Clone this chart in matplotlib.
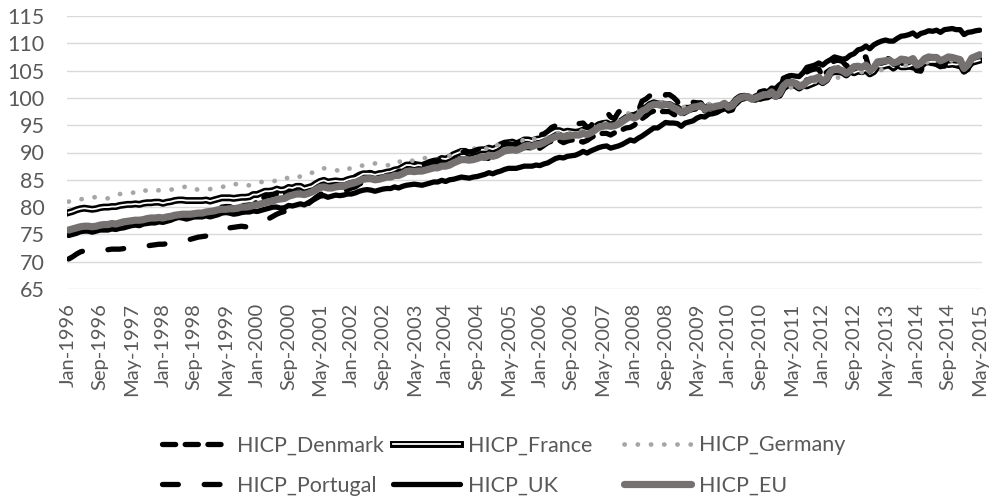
import numpy as np
import pandas as pd
import matplotlib
matplotlib.use("Agg")
import matplotlib.pyplot as plt
import matplotlib.patheffects as pe

months = pd.date_range("1996-01-01", "2015-05-01", freq="MS").strftime("%b-%Y").tolist()

hicp_denmark = [
    75.4, 75.6, 75.8, 76.0, 76.1, 76.1, 75.9, 76.1, 76.3, 76.3, 76.3, 76.3,
    76.6, 76.9, 77.2, 77.4, 77.5, 77.6, 77.3, 77.6, 77.7, 77.7, 77.7, 77.7,
    77.8, 78.1, 78.3, 78.5, 78.6, 78.6, 78.3, 78.5, 78.6, 78.6, 78.6, 78.6,
    79.0, 79.4, 79.8, 80.0, 80.1, 80.1, 79.8, 80.1, 80.3, 80.3, 80.4, 80.4,
    81.0, 81.4, 81.9, 82.1, 82.3, 82.4, 82.2, 82.4, 82.7, 82.6, 82.7, 82.7,
    82.9, 83.4, 83.9, 84.2, 84.5, 84.4, 84.1, 84.3, 84.5, 84.4, 84.5, 84.4,
    85.1, 85.6, 86.0, 86.3, 86.4, 86.3, 85.9, 86.2, 86.4, 86.4, 86.5, 86.4,
    86.8, 87.4, 87.8, 88.0, 88.0, 87.8, 87.5, 87.9, 88.0, 88.0, 87.9, 87.8,
    87.8, 88.2, 88.5, 88.7, 88.9, 88.7, 88.3, 88.7, 88.9, 89.1, 89.0, 88.9,
    89.1, 89.6, 90.1, 90.3, 90.6, 90.6, 90.3, 90.6, 90.9, 90.9, 90.8, 90.6,
    90.8, 91.3, 91.8, 92.1, 92.3, 92.2, 91.8, 92.1, 92.3, 92.2, 92.1, 91.9,
    92.2, 92.7, 93.1, 93.4, 93.5, 93.5, 93.2, 93.6, 93.9, 94.2, 94.5, 94.6,
    95.0, 95.6, 96.2, 96.7, 97.3, 97.6, 97.3, 97.5, 97.5, 97.5, 97.0, 96.7,
    96.9, 97.3, 97.7, 97.9, 98.0, 98.0, 97.6, 98.0, 98.2, 98.2, 98.2, 98.0,
    98.4, 99.1, 99.6, 100.1, 100.3, 100.2, 99.9, 100.2, 100.4, 100.6, 100.6, 100.6,
    101.1, 101.8, 102.5, 102.7, 103.0, 102.8, 102.5, 102.9, 103.3, 103.4, 103.4, 103.4,
    103.9, 104.7, 105.2, 105.3, 105.5, 105.2, 104.9, 105.4, 105.8, 105.7, 105.6, 105.3,
    105.1, 105.6, 105.9, 105.9, 106.0, 105.8, 105.3, 105.8, 106.1, 105.9, 105.7, 105.5,
    105.6, 105.9, 106.3, 106.3, 106.3, 106.1, 105.7, 106.0, 106.3, 106.2, 105.9, 105.7,
    105.8, 106.3, 106.6, 106.8, 106.9,
]

hicp_france = [
    79.0, 79.2, 79.5, 79.7, 79.8, 79.7, 79.6, 79.7, 79.9, 80.0, 80.0, 80.1,
    80.1, 80.3, 80.4, 80.5, 80.5, 80.6, 80.5, 80.7, 80.8, 80.8, 80.9, 80.9,
    80.7, 80.9, 81.0, 81.2, 81.3, 81.3, 81.2, 81.2, 81.2, 81.2, 81.2, 81.3,
    81.1, 81.3, 81.5, 81.7, 81.7, 81.7, 81.6, 81.7, 81.8, 81.8, 81.9, 82.3,
    82.3, 82.6, 82.9, 82.9, 83.0, 83.3, 83.1, 83.2, 83.6, 83.5, 83.8, 83.8,
    83.4, 83.6, 83.8, 84.3, 84.7, 84.9, 84.6, 84.7, 84.8, 84.7, 84.7, 85.0,
    85.2, 85.3, 85.7, 86.1, 86.1, 86.1, 85.9, 86.1, 86.2, 86.4, 86.5, 86.8,
    86.9, 87.3, 87.7, 87.7, 87.5, 87.7, 87.6, 87.9, 88.2, 88.4, 88.5, 88.9,
    88.8, 89.1, 89.6, 89.9, 90.2, 90.2, 89.8, 90.0, 90.2, 90.5, 90.5, 90.8,
    90.6, 90.9, 91.4, 91.7, 91.8, 91.9, 91.6, 91.9, 92.3, 92.3, 92.1, 92.4,
    92.5, 92.8, 93.2, 93.6, 94.0, 94.0, 93.7, 93.9, 93.8, 93.7, 93.8, 94.1,
    93.9, 94.1, 94.6, 95.1, 95.3, 95.4, 95.0, 95.3, 95.4, 95.9, 96.4, 96.7,
    96.8, 97.1, 97.8, 98.2, 98.8, 99.1, 98.9, 98.9, 98.8, 98.8, 98.4, 98.2,
    97.6, 98.1, 98.1, 98.3, 98.4, 98.7, 98.0, 98.5, 98.2, 98.4, 98.5, 98.8,
    98.5, 98.7, 99.7, 100.2, 100.3, 100.2, 99.8, 100.1, 99.9, 100.1, 100.2, 100.7,
    100.3, 100.5, 101.8, 102.3, 102.4, 102.3, 101.8, 102.3, 102.2, 102.5, 102.8, 103.2,
    102.8, 103.3, 104.6, 104.8, 104.8, 104.7, 104.2, 104.9, 104.6, 104.9, 104.8, 105.1,
    104.4, 104.8, 105.8, 105.7, 105.9, 106.1, 105.6, 106.1, 105.7, 105.7, 105.8, 106.1,
    105.2, 105.8, 106.5, 106.6, 106.6, 106.6, 106.0, 106.5, 106.1, 106.2, 106.1, 106.2,
    104.9, 105.7, 106.5, 106.7, 106.9,
]

hicp_germany = [
    81.0, 81.3, 81.4, 81.4, 81.6, 81.6, 81.8, 81.8, 81.6, 81.6, 81.6, 81.9,
    82.2, 82.4, 82.4, 82.4, 82.6, 82.7, 83.1, 83.2, 82.9, 82.9, 82.9, 83.1,
    83.1, 83.2, 83.2, 83.3, 83.5, 83.6, 83.8, 83.7, 83.3, 83.2, 83.1, 83.2,
    83.3, 83.4, 83.5, 83.7, 83.8, 83.8, 84.2, 84.2, 84.0, 83.9, 84.0, 84.3,
    84.4, 84.6, 84.6, 84.6, 84.7, 84.9, 85.3, 85.2, 85.4, 85.2, 85.5, 85.6,
    85.7, 86.2, 86.3, 86.5, 87.0, 87.1, 87.1, 87.0, 86.8, 86.6, 86.5, 86.8,
    87.3, 87.5, 87.6, 87.6, 87.7, 87.7, 88.0, 88.0, 87.8, 87.7, 87.6, 88.2,
    88.2, 88.6, 88.8, 88.6, 88.4, 88.6, 88.9, 89.0, 88.8, 88.7, 88.6, 89.3,
    89.4, 89.4, 89.6, 89.9, 90.2, 90.2, 90.6, 90.8, 90.5, 90.6, 90.4, 91.3,
    91.0, 91.3, 91.6, 91.5, 91.7, 91.8, 92.2, 92.2, 92.3, 92.3, 92.0, 92.9,
    92.6, 93.0, 93.0, 93.3, 93.6, 93.5, 94.0, 93.8, 93.4, 93.3, 93.5, 94.3,
    94.2, 94.6, 94.9, 95.4, 95.3, 95.4, 96.0, 95.9, 95.9, 96.2, 96.9, 97.4,
    96.9, 97.4, 97.9, 97.8, 98.5, 98.8, 99.5, 99.1, 98.8, 98.6, 98.2, 98.5,
    97.9, 98.5, 98.3, 98.6, 98.4, 98.6, 98.8, 98.9, 98.6, 98.5, 98.6, 99.3,
    98.7, 99.1, 99.6, 99.8, 99.7, 99.7, 100.0, 100.1, 99.9, 100.0, 100.1, 101.0,
    100.6, 101.1, 101.7, 102.0, 101.9, 101.9, 102.7, 102.7, 102.6, 102.7, 102.9, 103.3,
    102.8, 103.5, 103.9, 103.9, 103.7, 103.6, 104.5, 104.8, 104.8, 104.8, 104.7, 105.4,
    104.6, 105.2, 105.7, 105.1, 105.6, 105.7, 106.2, 106.2, 106.1, 105.9, 106.2, 106.8,
    105.9, 106.4, 106.7, 106.4, 106.1, 106.4, 107.0, 107.0, 107.0, 106.8, 106.7, 107.0,
    105.7, 106.6, 107.0, 107.1, 107.2,
]

hicp_portugal = [
    70.5, 70.9, 71.4, 71.8, 72.0, 72.1, 72.0, 72.0, 72.2, 72.3, 72.2, 72.3,
    72.3, 72.3, 72.4, 72.5, 72.6, 72.7, 72.6, 72.7, 72.9, 73.0, 73.1, 73.2,
    73.2, 73.3, 73.5, 73.6, 73.8, 74.0, 74.0, 74.1, 74.3, 74.5, 74.6, 74.7,
    74.9, 75.2, 75.6, 75.8, 76.0, 76.2, 76.3, 76.4, 76.5, 76.4, 76.4, 76.6,
    76.8, 77.1, 77.5, 77.9, 78.3, 78.7, 79.0, 79.2, 79.4, 79.6, 79.8, 80.1,
    80.3, 80.6, 81.2, 81.8, 82.3, 82.6, 82.5, 82.6, 82.8, 82.9, 83.0, 83.2,
    83.5, 83.7, 84.2, 84.6, 84.9, 85.1, 85.1, 85.2, 85.5, 85.8, 85.9, 86.1,
    86.5, 86.8, 87.3, 87.6, 87.7, 87.8, 87.7, 87.8, 88.1, 88.4, 88.5, 88.6,
    88.6, 88.9, 89.4, 89.7, 90.0, 90.2, 90.1, 90.2, 90.5, 90.8, 90.8, 90.9,
    90.7, 90.9, 91.3, 91.6, 91.6, 91.5, 91.5, 91.9, 92.7, 93.0, 93.1, 93.2,
    93.2, 93.4, 93.9, 94.6, 94.9, 95.0, 94.8, 94.8, 95.4, 95.4, 95.3, 95.4,
    94.6, 94.8, 96.3, 97.3, 97.6, 97.5, 96.5, 96.2, 97.4, 97.9, 97.9, 98.0,
    97.3, 97.5, 99.4, 99.8, 100.4, 100.6, 99.3, 99.0, 100.6, 100.6, 100.1, 99.4,
    97.6, 97.6, 98.9, 99.2, 99.1, 99.1, 97.9, 97.7, 99.0, 99.0, 99.1, 99.0,
    97.6, 97.8, 99.6, 100.1, 100.2, 100.3, 99.6, 99.6, 101.1, 101.3, 101.3, 101.4,
    100.4, 100.8, 103.6, 103.9, 104.1, 104.1, 103.1, 102.9, 104.8, 105.1, 105.3, 105.3,
    103.9, 104.0, 106.2, 106.8, 106.9, 106.7, 105.9, 105.9, 107.8, 107.9, 107.6, 107.5,
    104.9, 105.1, 107.0, 107.4, 107.4, 107.1, 106.2, 106.0, 108.0, 108.2, 107.8, 107.7,
    105.0, 104.9, 106.5, 107.1, 107.3, 107.4, 105.9, 105.8, 107.8, 107.8, 107.5, 107.0,
    104.8, 105.2, 107.1, 107.7, 107.9,
]

hicp_uk = [
    74.8, 75.0, 75.2, 75.5, 75.6, 75.6, 75.4, 75.6, 75.8, 75.8, 75.8, 76.0,
    75.9, 76.1, 76.2, 76.4, 76.6, 76.7, 76.6, 76.9, 77.0, 77.1, 77.1, 77.3,
    77.2, 77.4, 77.6, 77.9, 78.1, 78.0, 77.8, 78.0, 78.2, 78.2, 78.2, 78.4,
    78.2, 78.4, 78.6, 78.9, 79.0, 78.9, 78.7, 78.8, 79.0, 79.1, 79.1, 79.3,
    79.2, 79.4, 79.6, 79.8, 80.0, 80.0, 79.8, 79.9, 80.3, 80.2, 80.4, 80.6,
    80.4, 80.8, 81.2, 81.6, 82.0, 82.1, 81.8, 82.0, 82.2, 82.1, 82.2, 82.4,
    82.4, 82.6, 82.9, 83.1, 83.2, 83.1, 82.9, 83.1, 83.3, 83.4, 83.4, 83.7,
    83.5, 83.8, 84.0, 84.1, 84.2, 84.1, 84.0, 84.2, 84.4, 84.6, 84.6, 84.9,
    84.7, 85.0, 85.1, 85.3, 85.5, 85.4, 85.3, 85.5, 85.6, 85.8, 86.0, 86.3,
    86.1, 86.4, 86.6, 86.9, 87.1, 87.1, 87.1, 87.3, 87.5, 87.5, 87.5, 87.7,
    87.6, 87.9, 88.1, 88.5, 88.9, 89.1, 89.0, 89.3, 89.4, 89.5, 89.8, 90.2,
    89.9, 90.3, 90.6, 90.9, 91.1, 91.2, 90.8, 91.0, 91.2, 91.5, 91.9, 92.3,
    92.1, 92.6, 93.0, 93.5, 94.0, 94.5, 94.5, 95.0, 95.5, 95.4, 95.4, 95.3,
    94.8, 95.4, 95.6, 95.8, 96.3, 96.6, 96.5, 97.0, 97.1, 97.3, 97.7, 98.0,
    97.8, 98.3, 98.9, 99.6, 99.9, 100.1, 99.9, 100.4, 100.5, 100.8, 101.1, 101.8,
    101.7, 102.4, 102.9, 103.9, 104.1, 104.0, 103.9, 104.6, 105.6, 105.8, 106.0, 106.4,
    106.0, 106.6, 107.0, 107.5, 107.3, 107.1, 107.2, 107.8, 108.1, 108.8, 109.0, 109.5,
    109.0, 109.7, 110.1, 110.4, 110.6, 110.4, 110.4, 110.9, 111.3, 111.4, 111.6, 111.9,
    111.3, 111.8, 112.0, 112.3, 112.2, 112.4, 112.0, 112.5, 112.6, 112.7, 112.5, 112.5,
    111.6, 112.0, 112.1, 112.3, 112.4,
]

hicp_eu = [
    75.8, 76.0, 76.2, 76.4, 76.5, 76.5, 76.4, 76.5, 76.7, 76.8, 76.8, 77.0,
    76.9, 77.1, 77.3, 77.4, 77.5, 77.6, 77.6, 77.7, 77.9, 78.0, 78.0, 78.1,
    78.0, 78.2, 78.3, 78.5, 78.6, 78.7, 78.7, 78.7, 78.8, 78.9, 78.9, 79.1,
    79.2, 79.3, 79.5, 79.6, 79.6, 79.7, 79.7, 79.8, 80.0, 80.0, 80.1, 80.3,
    80.4, 80.6, 80.8, 81.0, 81.1, 81.4, 81.5, 81.6, 82.0, 82.2, 82.4, 82.4,
    82.3, 82.5, 82.8, 83.2, 83.6, 83.7, 83.5, 83.5, 83.7, 83.8, 83.8, 84.1,
    84.3, 84.5, 84.8, 85.1, 85.2, 85.2, 85.0, 85.1, 85.3, 85.5, 85.5, 85.8,
    85.8, 86.1, 86.5, 86.6, 86.5, 86.6, 86.6, 86.8, 87.0, 87.2, 87.2, 87.5,
    87.5, 87.7, 88.1, 88.4, 88.7, 88.7, 88.6, 88.7, 88.9, 89.2, 89.1, 89.5,
    89.3, 89.5, 89.9, 90.3, 90.4, 90.5, 90.4, 90.7, 91.1, 91.3, 91.1, 91.4,
    91.5, 91.8, 92.2, 92.6, 92.9, 93.0, 92.9, 93.0, 93.1, 93.2, 93.2, 93.5,
    93.3, 93.6, 94.1, 94.6, 94.8, 94.9, 94.8, 94.9, 95.2, 95.7, 96.2, 96.6,
    96.3, 96.7, 97.6, 97.9, 98.5, 98.8, 98.8, 98.6, 98.8, 98.7, 98.2, 97.9,
    97.3, 97.6, 97.9, 98.3, 98.4, 98.6, 97.9, 98.3, 98.3, 98.5, 98.6, 99.0,
    98.3, 98.6, 99.5, 100.0, 100.2, 100.2, 99.8, 100.0, 100.3, 100.6, 100.6, 101.1,
    100.3, 100.8, 102.2, 102.8, 102.8, 102.7, 102.1, 102.3, 103.0, 103.4, 103.5, 103.8,
    103.0, 103.5, 104.8, 105.3, 105.2, 105.0, 104.5, 105.0, 105.7, 105.8, 105.6, 106.0,
    105.1, 105.5, 106.6, 106.7, 106.8, 106.9, 106.4, 106.6, 107.1, 107.0, 106.8, 107.2,
    106.0, 106.4, 107.2, 107.5, 107.4, 107.4, 106.8, 107.1, 107.5, 107.4, 107.2, 107.0,
    105.4, 106.1, 107.3, 107.6, 107.9,
]

series_names = ["HICP_Denmark", "HICP_France", "HICP_Germany",
                "HICP_Portugal", "HICP_UK", "HICP_EU"]
y_ticks = [65, 70, 75, 80, 85, 90, 95, 100, 105, 110, 115]

plt.rcParams["font.family"] = ["Lato", "DejaVu Sans"]
TXT = "#595959"
FS_X = 14.5
FS_Y = 15.5
FS_L = 15.5

W, H = 989, 504
fig = plt.figure(figsize=(W / 100, H / 100), dpi=100)
left, right, top, bottom = 66.7, 981.7, 16.0, 289.0
ax = fig.add_axes([left / W, 1 - bottom / H, (right - left) / W, (bottom - top) / H])

x = np.arange(len(months))
ax.set_xlim(-0.5, len(months) - 0.5)
ax.set_ylim(y_ticks[0], y_ticks[-1])
ax.set_yticks(y_ticks)
ax.set_yticklabels([str(v) for v in y_ticks], fontsize=FS_Y, color=TXT)
ax.set_xticks(x[::8])
ax.set_xticklabels(months[::8], rotation=90, fontsize=FS_X, color=TXT)
ax.tick_params(axis="both", length=0)
ax.tick_params(axis="y", pad=16)
ax.tick_params(axis="x", pad=10)
ax.grid(axis="y", color="#D9D9D9", lw=1.0)
ax.set_axisbelow(True)
for s in ax.spines.values():
    s.set_visible(False)

lw = 3.8
l_dk, = ax.plot(x, hicp_denmark, color="black", lw=lw, dashes=(2.5, 1.8),
                dash_capstyle="round", solid_joinstyle="round", label=series_names[0])
l_fr, = ax.plot(x, hicp_france, color="white", lw=1.3, solid_joinstyle="round",
                path_effects=[pe.Stroke(linewidth=5.0, foreground="black"), pe.Normal()],
                label=series_names[1])
l_de, = ax.plot(x, hicp_germany, color="#A6A6A6", lw=3.4, dashes=(0.05, 2.75),
                dash_capstyle="round", label=series_names[2])
l_pt, = ax.plot(x, hicp_portugal, color="black", lw=lw, dashes=(3.0, 4.9),
                dash_capstyle="round", label=series_names[3])
l_uk, = ax.plot(x, hicp_uk, color="black", lw=lw, solid_joinstyle="round",
                solid_capstyle="round", label=series_names[4])
l_eu, = ax.plot(x, hicp_eu, color="#767171", lw=5.2, solid_joinstyle="round",
                solid_capstyle="round", label=series_names[5])

cols = [([l_dk, l_pt], 162), ([l_fr, l_uk], 393), ([l_de, l_eu], 624)]
for hs, x0 in cols:
    fig.legend(handles=hs, loc="center left",
               bbox_to_anchor=(x0 / W, 1 - 465.5 / H),
               frameon=False, fontsize=FS_L, labelcolor=TXT,
               handlelength=3.1, handletextpad=0.4, labelspacing=0.95,
               borderpad=0, borderaxespad=0)

fig.savefig("out.png", dpi=100)
